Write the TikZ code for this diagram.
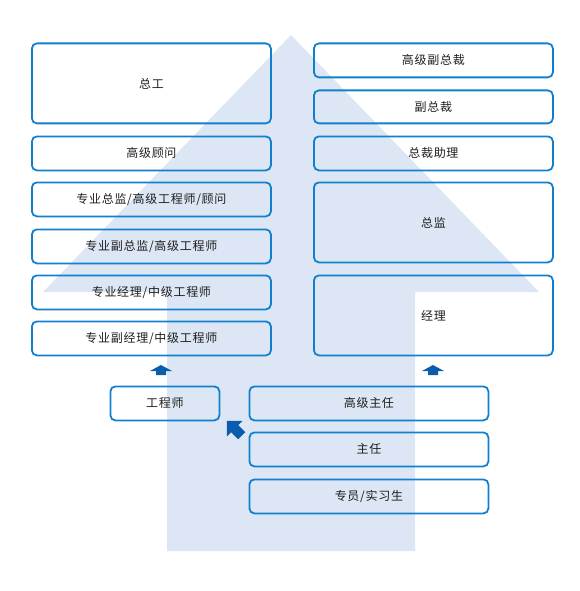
\documentclass[tikz,border=0pt]{standalone}
\usepackage{fontspec}
\setmainfont{Noto Sans CJK SC}[LetterSpace=6]
\definecolor{boxblue}{RGB}{16,128,206}
\definecolor{bgarrow}{RGB}{220,230,244}
\definecolor{darrow}{RGB}{10,92,172}
\definecolor{txt}{RGB}{30,30,30}
\tikzset{
  rbox/.style={draw=boxblue, line width=1.8pt, rounded corners=5pt, inner sep=0pt, text=txt, font=\fontsize{12}{14}\selectfont},
  uparrow/.style={fill=darrow, draw=none}
}
\begin{document}
\begin{tikzpicture}[x=1pt,y=-1pt]
\useasboundingbox (0,0) rectangle (579,591);
% background arrow
\fill[bgarrow] (291,35) -- (539,292) -- (415,292) -- (415,551) -- (167,551) -- (167,292) -- (43,292) -- cycle;
% left column
\node[rbox, minimum width=239pt, minimum height=80pt, anchor=north west] (zg) at (31,42.5) {总工};
\node[rbox, minimum width=239pt, minimum height=34pt, anchor=north west] (gjgw) at (31,135.5) {高级顾问};
\node[rbox, minimum width=239pt, minimum height=34pt, anchor=north west] (zyzj) at (31,181.5) {专业总监/高级工程师/顾问};
\node[rbox, minimum width=239pt, minimum height=34pt, anchor=north west] (zyfzj) at (31,228.5) {专业副总监/高级工程师};
\node[rbox, minimum width=239pt, minimum height=34pt, anchor=north west] (zyjl) at (31,274.5) {专业经理/中级工程师};
\node[rbox, minimum width=239pt, minimum height=34pt, anchor=north west] (zyfjl) at (31,320.5) {专业副经理/中级工程师};
% right column
\node[rbox, minimum width=239pt, minimum height=34pt, anchor=north west] (gjfzc) at (313,42.5) {高级副总裁};
\node[rbox, minimum width=239pt, minimum height=33pt, anchor=north west] (fzc) at (313,89.5) {副总裁};
\node[rbox, minimum width=239pt, minimum height=34pt, anchor=north west] (zczl) at (313,135.5) {总裁助理};
\node[rbox, minimum width=239pt, minimum height=80pt, anchor=north west] (zj) at (313,181.5) {总监};
\node[rbox, minimum width=239pt, minimum height=80pt, anchor=north west] (jl) at (313,274.5) {经理};
% bottom
\node[rbox, minimum width=109pt, minimum height=34pt, anchor=north west] (gcs) at (109.5,385.5) {工程师};
\node[rbox, minimum width=239pt, minimum height=34pt, anchor=north west] (gjzr) at (248.5,385.5) {高级主任};
\node[rbox, minimum width=239pt, minimum height=34pt, anchor=north west] (zr) at (248.5,431.5) {主任};
\node[rbox, minimum width=239pt, minimum height=34pt, anchor=north west] (zy) at (248.5,478.5) {专员/实习生};
% small arrows
\coordinate (a1) at (161,370);
\coordinate (a2) at (433,370);
\coordinate (a3) at (235,429);
\fill[uparrow] ([shift={(0,-5)}]a1) -- ++(11,6) -- ++(-6,0) -- ++(0,4) -- ++(-10,0) -- ++(0,-4) -- ++(-6,0) -- cycle;
\fill[uparrow] ([shift={(0,-5)}]a2) -- ++(11,6) -- ++(-6,0) -- ++(0,4) -- ++(-10,0) -- ++(0,-4) -- ++(-6,0) -- cycle;
\begin{scope}[shift={(a3)}, rotate=45]
\fill[uparrow] (0,-11.5) -- (11,-0.5) -- (5,-0.5) -- (5,9.5) -- (-5,9.5) -- (-5,-0.5) -- (-11,-0.5) -- cycle;
\end{scope}
\end{tikzpicture}
\end{document}
